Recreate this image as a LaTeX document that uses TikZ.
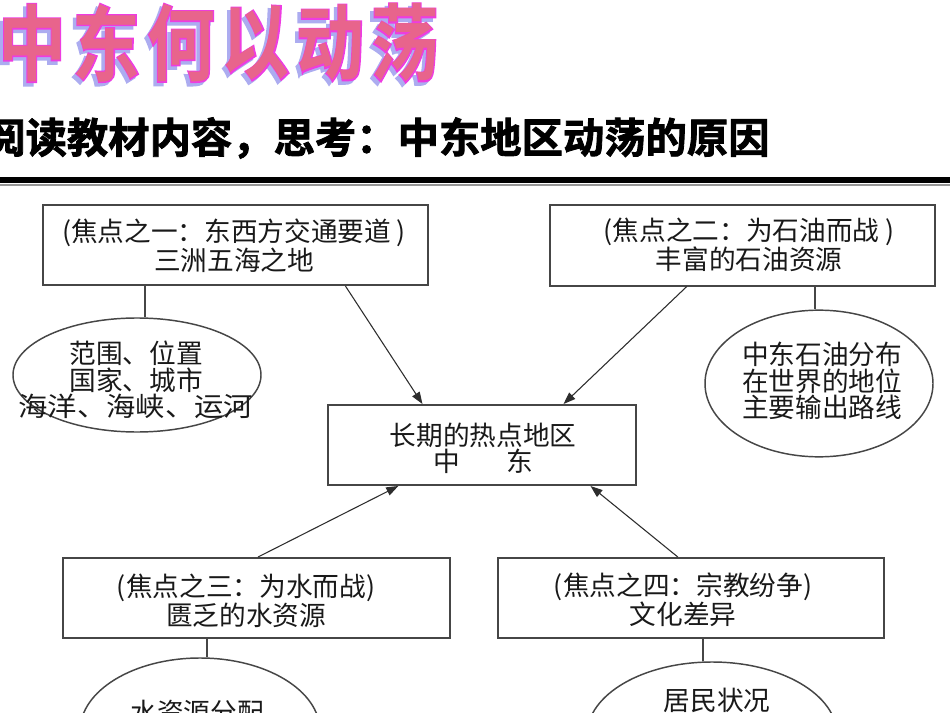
\documentclass[tikz,border=0pt]{standalone}
\usepackage{fontspec}
\usepackage{graphicx}
\usetikzlibrary{shapes.geometric,arrows.meta,calc}
\newfontfamily\cjk{Noto Sans CJK SC}
\newfontfamily\cjkbold{Noto Sans CJK SC Bold}
\newfontfamily\cjkboldo{Noto Sans CJK SC Bold}[FakeBold=3]
\newfontfamily\cjkheavy{Noto Sans CJK SC Bold}[FakeBold=2]
\definecolor{tpink}{RGB}{232,100,140}
\definecolor{tmag}{RGB}{238,60,225}
\definecolor{tshadow}{RGB}{172,172,240}
\definecolor{boxgray}{RGB}{70,70,70}
\definecolor{arrgray}{RGB}{45,45,45}
\definecolor{textc}{RGB}{25,25,25}
\definecolor{rulegray}{RGB}{150,150,150}
\tikzset{
  box/.style={draw=boxgray, line width=1.5pt, minimum height=60pt, inner sep=0pt},
  oval/.style={ellipse, draw=boxgray, line width=1.1pt, inner sep=0pt},
  txt/.style={font={\cjk\fontsize{20}{19.8}\selectfont}, text=textc, align=center, inner sep=0pt},
  arr/.style={draw=arrgray, line width=0.8pt, -{Triangle[length=9pt,width=6.5pt]}},
  link/.style={draw=boxgray, line width=1.5pt},
  ttl/.style={inner sep=0pt, font={\fontsize{62}{62}\selectfont}}
}
\begin{document}
\begin{tikzpicture}[x=0.75pt,y=-0.75pt]
\useasboundingbox (0,0) rectangle (950,713);
\clip (0,0) rectangle (950,713);
\fill[white] (0,0) rectangle (950,713);

% title
\foreach \c [count=\i from 0] in {中,东,何,以,动,荡}{
  \node[ttl, text=tshadow] (tsh\i) at ({32+74.6*\i-3.5}, 46.5) {\scalebox{0.82}[1]{\cjkboldo\c}};
  \node[ttl, text=tmag] (tol\i) at ({32+74.6*\i}, 43) {\scalebox{0.82}[1]{\cjkboldo\c}};
  \node[ttl, text=tpink] (tfi\i) at ({32+74.6*\i}, 43) {\scalebox{0.82}[1]{\cjkbold\c}};
}

% subtitle
\node[inner sep=0pt, anchor=west, font={\cjkheavy\fontsize{31}{31}\selectfont}] (sub) at (-16,138) {阅读教材内容，思考：中东地区动荡的原因};

% rule
\fill[black] (0,177) rectangle (950,183);
\fill[rulegray] (0,184) rectangle (950,186);

% boxes
\node[box, minimum width=288.75pt] (b1) at (235.5,245) {};
\node[box, minimum width=288.75pt] (b2) at (742.5,245.5) {};
\node[box, minimum width=231pt] (c) at (482,445) {};
\node[box, minimum width=290.25pt] (b3) at (256.5,598) {};
\node[box, minimum width=289.5pt] (b4) at (691,598) {};

% ellipses
\node[oval, minimum width=186pt, minimum height=85.5pt] (e1) at (137,375) {};
\node[oval, minimum width=171pt, minimum height=110pt] (e2) at (819,383.5) {};
\node[oval, minimum width=180pt, minimum height=109.5pt] (e3) at (200,731) {};
\node[oval, minimum width=187.5pt, minimum height=109.5pt] (e4) at (712,735) {};

% box to ellipse links
\draw[link] ($(b1.south west)!0.265!(b1.south east)$) coordinate (k1) -- (k1 |- e1.north);
\draw[link] ($(b2.south west)!0.688!(b2.south east)$) coordinate (k2) -- (k2 |- e2.north);
\draw[link] ($(b3.south west)!0.372!(b3.south east)$) coordinate (k3) -- (k3 |- e3.north);
\draw[link] ($(b4.south west)!0.531!(b4.south east)$) coordinate (k4) -- (k4 |- e4.north);

% arrows to centre
\draw[arr] ($(b1.south west)!0.784!(b1.south east)$) -- ($(c.north west)!0.308!(c.north east)$);
\draw[arr] ($(b2.south west)!0.356!(b2.south east)$) -- ($(c.north west)!0.763!(c.north east)$);
\draw[arr] ($(b3.north west)!0.504!(b3.north east)$) -- ($(c.south west)!0.23!(c.south east)$);
\draw[arr] ($(b4.north west)!0.466!(b4.north east)$) -- ($(c.south west)!0.85!(c.south east)$);

% texts
\node[txt] (t1) at (234,246) {(焦点之一：东西方交通要道 )\\三洲五海之地};
\node[txt] (t2) at (749,245) {(焦点之二：为石油而战 )\\丰富的石油资源};
\node[txt] (tc) at (483,448) {长期的热点地区\\中\hspace{1.74em}东};
\node[txt] (t3) at (246,601) {(焦点之三：为水而战)\\匮乏的水资源};
\node[txt] (t4) at (683,600) {(焦点之四：宗教纷争)\\文化差异};
\node[txt] (te1) at (136,380) {范围、位置\\国家、城市\\\scalebox{1.1}[1]{海洋、海峡、运河}};
\node[txt] (te2) at (822,381) {中东石油分布\\在世界的地位\\主要输出路线};
\node[txt] (te3) at (197,712) {水资源分配};
\node[txt] (te4) at (717,700) {居民状况};
\end{tikzpicture}
\end{document}
